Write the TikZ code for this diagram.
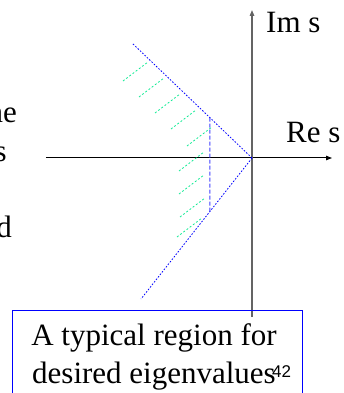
\documentclass[tikz,border=0pt]{standalone}
\usepackage{fontspec}
\setmainfont{Liberation Serif}
\newfontfamily\slidesans{Liberation Sans}
\usetikzlibrary{arrows.meta,calc}

\definecolor{hatchgreen}{RGB}{20,235,150}
\definecolor{axisgray}{RGB}{100,100,100}
\tikzset{
  axisline/.style={line width=1pt,-{Triangle[length=6pt,width=4.5pt]}},
  borderline/.style={blue,line width=0.8pt,dash pattern=on 1.6pt off 1.6pt},
  hatchline/.style={hatchgreen,line width=0.8pt,dash pattern=on 2pt off 2pt},
  bigtext/.style={font=\fontsize{31}{38}\selectfont,inner sep=0pt}
}

\begin{document}
\begin{tikzpicture}[x=1pt,y=1pt]
        \useasboundingbox (-252,-235) rectangle (91,158);
        \coordinate (O) at (0,0);
        % axes
        \coordinate (xl) at (-206,0);
        \coordinate (xr) at (80,0);
        \coordinate (yb) at (0,-159);
        \coordinate (yt) at (0,148);
        \draw[axisline] (xl) -- (xr);
        \draw[axisline,axisgray,line width=1.3pt] (yb) -- (yt);
        \node[bigtext,anchor=base west] (ims) at (14,125) {Im s};
        \node[bigtext,anchor=base west] (res) at (34,15) {Re s};
        % region border
        \coordinate (up) at (-120,115);
        \coordinate (lo) at (-111,-141);
        \draw[borderline] (O) -- (up);
        \draw[borderline] (O) -- (lo);
        \draw[blue!75,line width=1pt,dash pattern=on 4pt off 2pt]
          ($(O)!0.35!(up)$) -- ($(O)!0.38!(lo)$);
        \foreach \x/\y in {-129/77,-113/61,-97/45,-81/29,-65/12,-73/-13,-73/-36,-72/-59,-75/-79} {
          \draw[hatchline] (\x,\y) -- ++(25,19);
        }
        % cut-off slide text
        \node[bigtext,anchor=base east] (frag1) at (-235,35) {ne};
        \node[bigtext,anchor=base east] (frag2) at (-245,-4) {s};
        \node[bigtext,anchor=base east] (frag3) at (-240,-79) {d};
        % caption box
        \draw[blue,line width=0.8pt] (-240,-260) -- (-240,-152) -- (50,-152) -- (50,-260);
        \node[bigtext,align=center,anchor=base] (cap) at (-98,-225) {A typical region for\\desired eigenvalues};
        \node[font=\slidesans\fontsize{17}{20}\selectfont,inner sep=0pt,anchor=base west] (pg) at (20,-219) {42};
      \end{tikzpicture}
\end{document}
